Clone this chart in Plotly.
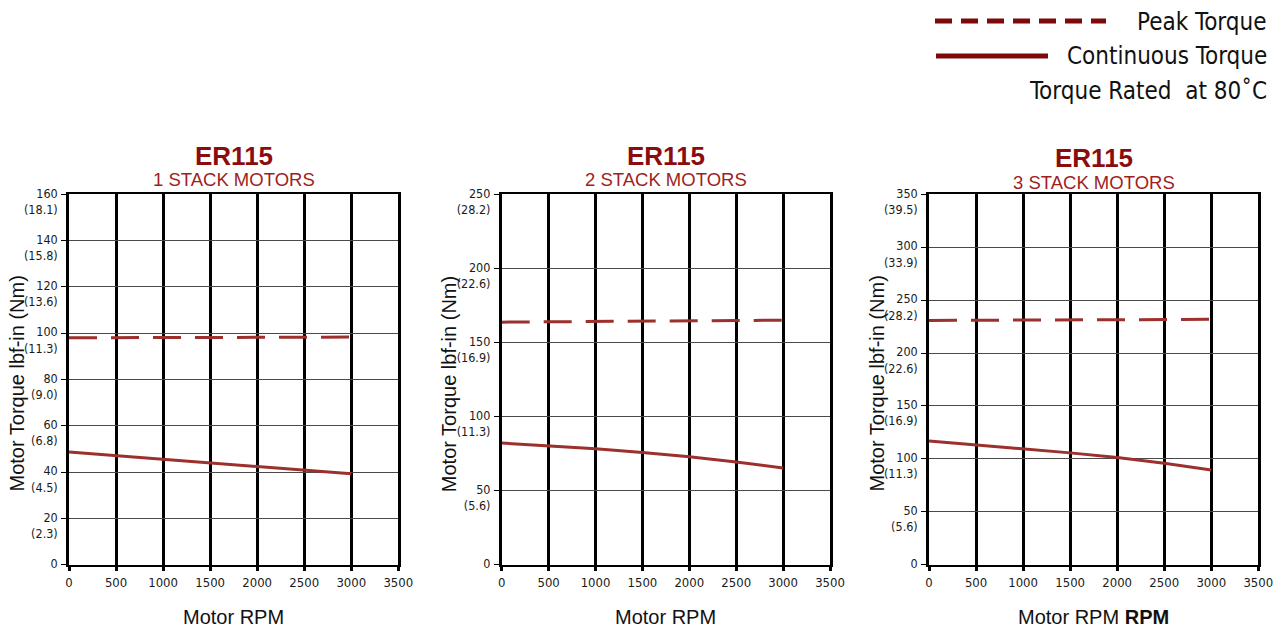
import plotly.graph_objects as go

OFF = 0
W, H = 1282, 628

rpm = [0, 500, 1000, 1500, 2000, 2500, 3000]

# Panel data (lbf-in)
peak_1 = [98.0, 98.0, 98.1, 98.1, 98.2, 98.2, 98.3]
cont_1 = [48.6, 47.1, 45.5, 44.1, 42.6, 41.0, 39.3]
peak_2 = [163.7, 163.9, 164.1, 164.4, 164.6, 164.8, 165.0]
cont_2 = [82.1, 80.3, 78.2, 75.7, 72.8, 69.3, 65.2]
peak_3 = [230.8, 231.0, 231.1, 231.3, 231.5, 231.6, 231.8]
cont_3 = [116.9, 113.1, 109.7, 105.6, 101.2, 95.8, 89.5]

x_ticks = [0, 500, 1000, 1500, 2000, 2500, 3000, 3500]

y_ticks_1 = [0, 20, 40, 60, 80, 100, 120, 140, 160]
nm_1 = ["", "2.3", "4.5", "6.8", "9.0", "11.3", "13.6", "15.8", "18.1"]
y_ticks_2 = [0, 50, 100, 150, 200, 250]
nm_2 = ["", "5.6", "11.3", "16.9", "22.6", "28.2"]
y_ticks_3 = [0, 50, 100, 150, 200, 250, 300, 350]
nm_3 = ["", "5.6", "11.3", "16.9", "22.6", "28.2", "33.9", "39.5"]

titles = ["ER115", "ER115", "ER115"]
subtitles = ["1 STACK MOTORS", "2 STACK MOTORS", "3 STACK MOTORS"]
x_titles = ["Motor RPM", "Motor RPM", "Motor RPM <b>RPM</b>"]
y_title = "Motor Torque lbf-in (Nm)"

legend_items = ["Peak Torque", "Continuous Torque", "Torque Rated  at 80˚C"]

panels = [
    (peak_1, cont_1, y_ticks_1, nm_1),
    (peak_2, cont_2, y_ticks_2, nm_2),
    (peak_3, cont_3, y_ticks_3, nm_3),
]


def px(x):
    return (x - OFF) / W


def py(y):
    return 1 - (y - OFF) / H


# pixel geometry in page coordinates
x_px = [(69, 398.3), (501.7, 830), (929, 1258.3)]
y_top, y_bot = 194.3, 564.6
ydom = [py(y_bot), py(y_top)]
title_y = [156, 156, 157.5]
sub_y = [180, 180, 182]

LINE_RED = "#9c302c"
TITLE_RED = "#8b0c0c"
SUB_RED = "#a01e1e"
LEG_RED = "#7d0a0a"
NARROW = "DejaVu Sans Condensed, Liberation Sans Narrow, sans-serif"
SANS = "Liberation Sans, Arial, sans-serif"

fig = go.Figure()
annotations = []
shapes = []

for i, (peak, cont, yt, nm) in enumerate(panels):
    ax = "" if i == 0 else str(i + 1)
    xa, ya = "x" + ax, "y" + ax
    fig.add_trace(go.Scatter(x=rpm, y=peak, mode="lines", xaxis=xa, yaxis=ya,
                             line=dict(color=LINE_RED, width=3, dash="28px,14px"),
                             showlegend=False, hoverinfo="skip"))
    fig.add_trace(go.Scatter(x=rpm, y=cont, mode="lines", xaxis=xa, yaxis=ya,
                             line=dict(color=LINE_RED, width=3),
                             showlegend=False, hoverinfo="skip"))
    x0, x1 = x_px[i]
    xdom = [px(x0), px(x1)]
    ticktext = [f"{v}<br>({n})" if n else f"{v}<br> " for v, n in zip(yt, nm)]
    fig.update_layout(**{
        "xaxis" + ax: dict(domain=xdom, range=[0, 3500], tickvals=x_ticks,
                           ticktext=[str(t) for t in x_ticks], anchor=ya,
                           showgrid=True, gridcolor="#000000", gridwidth=2.5,
                           showline=True, linecolor="#000000", linewidth=1.5, mirror=True,
                           ticks="outside", ticklen=5, tickwidth=2.5, tickcolor="#000000",
                           tickfont=dict(family=NARROW, size=13, color="#1a1a1a"),
                           zeroline=False, fixedrange=True, automargin=False),
        "yaxis" + ax: dict(domain=ydom, range=[0, yt[-1]], tickvals=yt,
                           ticktext=ticktext, anchor=xa,
                           showgrid=True, gridcolor="#4a4a4a", gridwidth=1,
                           showline=True, linecolor="#000000", linewidth=2.5, mirror=True,
                           ticks="outside", ticklen=5, tickwidth=1, tickcolor="#000000",
                           ticklabelshift=7, ticklabelstandoff=1,
                           tickfont=dict(family=NARROW, size=12.5, color="#1a1a1a"),
                           zeroline=False, fixedrange=True, automargin=False),
    })
    cx = px((x0 + x1) / 2)
    annotations.append(dict(text=f"<b>{titles[i]}</b>", x=cx, y=py(title_y[i]), xref="paper", yref="paper",
                            showarrow=False, xanchor="center", yanchor="middle",
                            font=dict(family=SANS, size=26, color=TITLE_RED)))
    annotations.append(dict(text=subtitles[i], x=cx, y=py(sub_y[i]), xref="paper", yref="paper",
                            showarrow=False, xanchor="center", yanchor="middle",
                            font=dict(family=SANS, size=18.5, color=SUB_RED)))
    annotations.append(dict(text=x_titles[i], x=cx, y=py(617), xref="paper", yref="paper",
                            showarrow=False, xanchor="center", yanchor="middle",
                            font=dict(family=SANS, size=20, color="#111111")))
    annotations.append(dict(text=y_title, x=px(x0 - 52.5), y=py(384), xref="paper", yref="paper",
                            showarrow=False, xanchor="center", yanchor="middle", textangle=-90,
                            font=dict(family=SANS, size=20, color="#111111")))

# legend drawn with shapes + text
shapes.append(dict(type="line", xref="paper", yref="paper", x0=px(935), x1=px(1106),
                   y0=py(21), y1=py(21),
                   line=dict(color=LEG_RED, width=5, dash="17px,9px")))
shapes.append(dict(type="line", xref="paper", yref="paper", x0=px(936), x1=px(1048),
                   y0=py(56), y1=py(56),
                   line=dict(color=LEG_RED, width=5)))
for txt, yy in zip(legend_items, [22, 56, 91]):
    annotations.append(dict(text=txt, x=px(1269), y=py(yy), xref="paper", yref="paper",
                            showarrow=False, xanchor="right", yanchor="middle",
                            font=dict(family=NARROW, size=24, color="#111111")))

fig.update_layout(width=W, height=H, margin=dict(l=0, r=0, t=0, b=0),
                  paper_bgcolor="white", plot_bgcolor="white",
                  annotations=annotations, shapes=shapes, showlegend=False)

fig.write_html("out.html", config={"displayModeBar": False},
               post_script="document.body.style.margin='0px';")
